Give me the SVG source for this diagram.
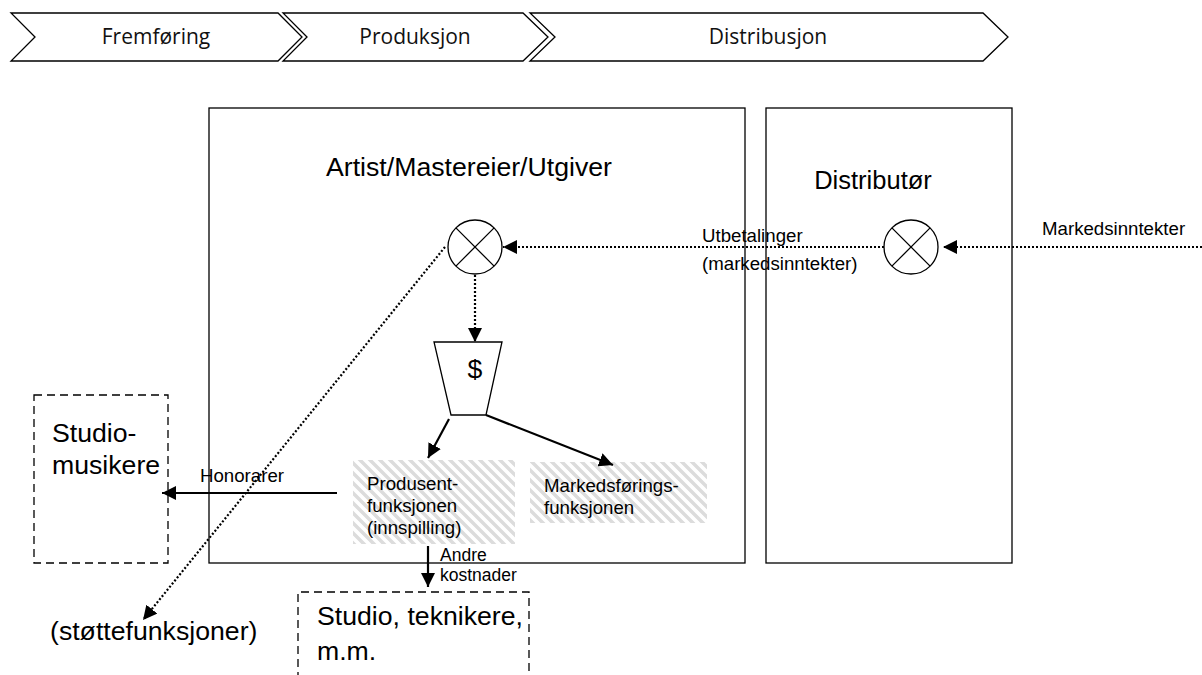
<svg xmlns="http://www.w3.org/2000/svg" width="1202" height="675" viewBox="0 0 1202 675">
<style>
.chev{fill:#fff;stroke:#000;stroke-width:1.3}
.box{fill:#fff;stroke:#000;stroke-width:1.3}
.dash{fill:#fff;stroke:#000;stroke-width:1.3;stroke-dasharray:8 5}
.cal{font-family:"Open Sans","Liberation Sans",sans-serif;font-size:21px;fill:#111}
.big{font-family:"Liberation Sans",Arial,sans-serif;font-size:26.67px;fill:#000}
.mid{font-family:"Liberation Sans",Arial,sans-serif;font-size:18.67px;fill:#000}
.dot{fill:none;stroke:#000;stroke-width:2.2;stroke-dasharray:2 2}
.sol{fill:none;stroke:#000;stroke-width:2.2}
.thin{fill:none;stroke:#000;stroke-width:1.3}
</style>
<defs>
<marker id="arr" viewBox="0 0 12 12" refX="12" refY="6" markerWidth="14" markerHeight="14" markerUnits="userSpaceOnUse" orient="auto">
<path d="M0,0 L12,6 L0,12 Z" fill="#000"/>
</marker>
<pattern id="hatch" width="10" height="10" patternUnits="userSpaceOnUse">
<path d="M-2,8 L2,12 M0,0 L10,10 M8,-2 L12,2" stroke="#dcdcdc" stroke-width="3.5"/>
</pattern>
</defs>

<g id="phases">
<g id="phase-fremforing">
<polygon class="chev" points="11,13 278,13 302,37 278,61 11,61 35,37"/>
<text class="cal" x="156" y="44" text-anchor="middle">Fremføring</text>
</g>
<g id="phase-produksjon">
<polygon class="chev" points="283,13 523,13 548,37 523,61 283,61 307,37"/>
<text class="cal" x="415" y="44" text-anchor="middle">Produksjon</text>
</g>
<g id="phase-distribusjon">
<polygon class="chev" points="530,13 983,13 1008,37 983,61 530,61 555,37"/>
<text class="cal" x="768" y="44" text-anchor="middle">Distribusjon</text>
</g>
</g>

<g id="artist">
<rect class="box" x="209" y="108" width="536" height="455"/>
<text class="big" x="469" y="176" text-anchor="middle">Artist/Mastereier/Utgiver</text>
</g>

<g id="distributor">
<rect class="box" x="766" y="108" width="246" height="455"/>
<text class="big" x="873" y="189" text-anchor="middle" style="font-size:25.5px">Distributør</text>
</g>

<g id="sum-artist">
<circle class="thin" cx="475" cy="247" r="27"/>
<path class="thin" d="M455.9,227.9 L494.1,266.1 M494.1,227.9 L455.9,266.1"/>
</g>

<g id="sum-distributor">
<circle class="thin" cx="911" cy="247" r="27"/>
<path class="thin" d="M891.9,227.9 L930.1,266.1 M930.1,227.9 L891.9,266.1"/>
</g>

<g id="bucket">
<polygon class="thin" points="434,342 502,342 486,415 451,415" fill="#fff"/>
<text class="big" x="475" y="378" text-anchor="middle">$</text>
</g>

<g id="produsent">
<rect x="353" y="460" width="162" height="84" fill="url(#hatch)"/>
<text class="mid" x="367" y="490">Produsent-</text>
<text class="mid" x="367" y="512">funksjonen</text>
<text class="mid" x="367" y="534">(innspilling)</text>
</g>

<g id="markedsforing">
<rect x="530" y="462" width="177" height="61" fill="url(#hatch)"/>
<text class="mid" x="544" y="492">Markedsførings-</text>
<text class="mid" x="544" y="514">funksjonen</text>
</g>

<g id="studiomusikere">
<rect class="dash" x="34" y="395" width="134" height="168"/>
<text class="big" x="52" y="442">Studio-</text>
<text class="big" x="52" y="474">musikere</text>
</g>

<g id="studio">
<path class="dash" d="M298,680 L298,592 L529,592 L529,680" fill="#fff"/>
<text class="big" x="317" y="625">Studio, teknikere,</text>
<text class="big" x="317" y="660">m.m.</text>
</g>

<g id="stottefunksjoner">
<text class="big" x="50" y="640">(støttefunksjoner)</text>
</g>

<g id="connectors">
<line class="dot" x1="1202" y1="247" x2="943" y2="247" marker-end="url(#arr)"/>
<line class="dot" x1="884" y1="247" x2="503" y2="247" marker-end="url(#arr)"/>
<line class="dot" x1="475" y1="275" x2="475" y2="342" marker-end="url(#arr)"/>
<line class="dot" x1="445" y1="247" x2="143" y2="620" marker-end="url(#arr)"/>
<line class="sol" x1="449" y1="419" x2="428" y2="458" marker-end="url(#arr)"/>
<line class="sol" x1="486" y1="415" x2="613" y2="465" marker-end="url(#arr)"/>
<line class="sol" x1="337" y1="493" x2="162" y2="493" marker-end="url(#arr)"/>
<line class="sol" x1="428" y1="546" x2="428" y2="587" marker-end="url(#arr)"/>
<text class="mid" x="1042" y="235">Markedsinntekter</text>
<text class="mid" x="702" y="242">Utbetalinger</text>
<text class="mid" x="702" y="270">(markedsinntekter)</text>
<text class="mid" x="200" y="482">Honorarer</text>
<text class="mid" x="440" y="561" style="font-size:17.5px">Andre</text>
<text class="mid" x="440" y="581" style="font-size:17.5px">kostnader</text>
</g>
</svg>
